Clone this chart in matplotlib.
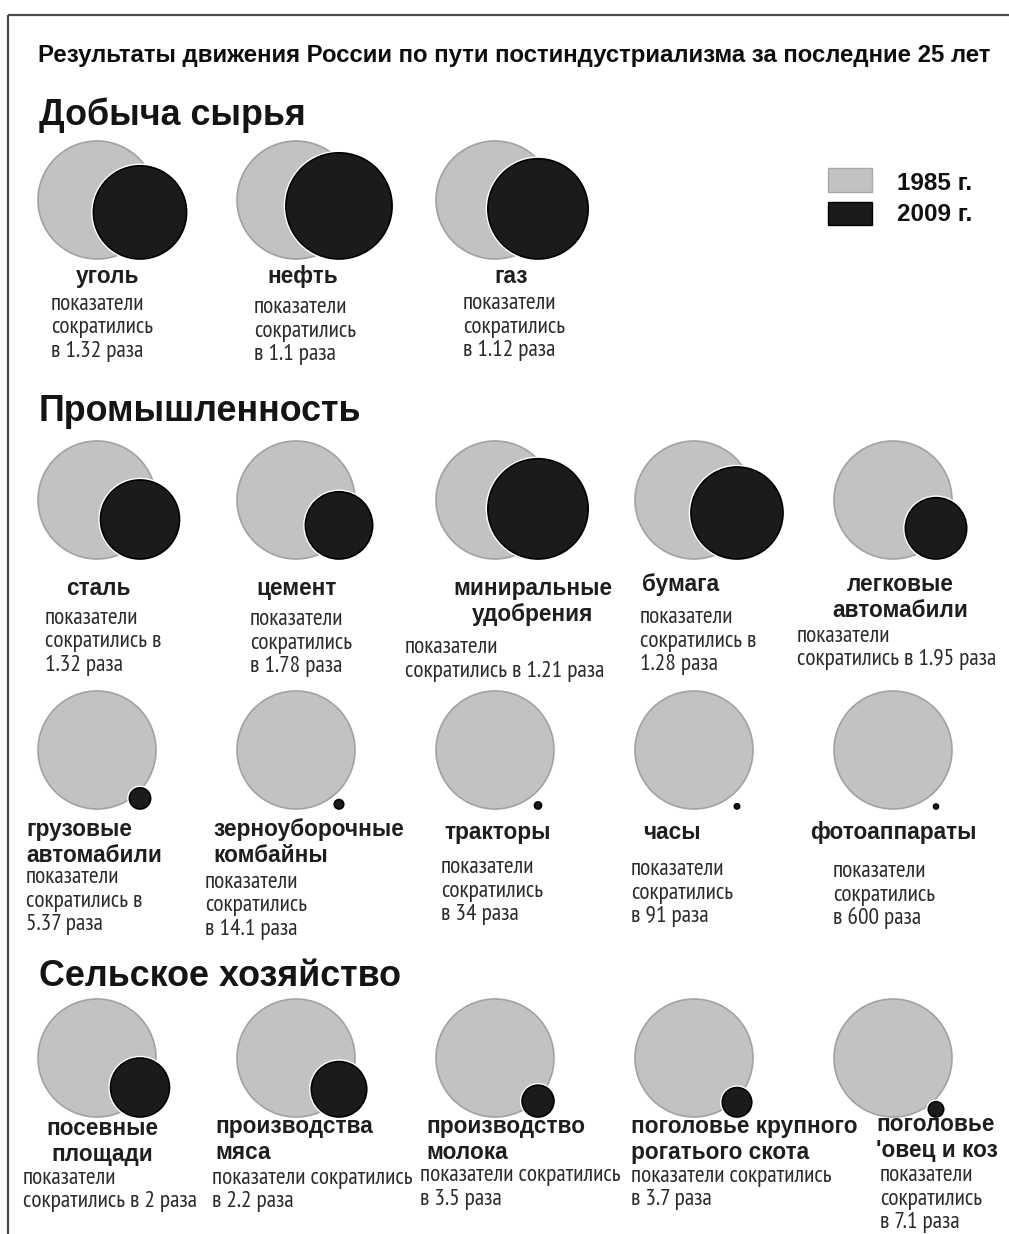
import matplotlib
matplotlib.use("Agg")
import matplotlib.pyplot as plt
from matplotlib.patches import Circle, Rectangle

# ---- данные ----
заголовок = "Результаты движения России по пути постиндустриализма за последние 25 лет"
разделы = ["Добыча сырья", "Промышленность", "Сельское хозяйство"]
годы = ["1985 г.", "2009 г."]

названия = [
    ["уголь"], ["нефть"], ["газ"],
    ["сталь"], ["цемент"], ["миниральные", "удобрения"], ["бумага"], ["легковые", "автомабили"],
    ["грузовые", "автомабили"], ["зерноуборочные", "комбайны"], ["тракторы"], ["часы"], ["фотоаппараты"],
    ["посевные", "площади"], ["производства", "мяса"], ["производство", "молока"],
    ["поголовье крупного", "рогатього скота"], ["поголовье", "'овец и коз"],
]
# во сколько раз сократились показатели (подписи)
сокращение = ["1.32", "1.1", "1.12",
              "1.32", "1.78", "1.21", "1.28", "1.95",
              "5.37", "14.1", "34", "91", "600",
              "2", "2.2", "3.5", "3.7", "7.1"]
# размер круга 2009 г. относительно круга 1985 г. (как нарисовано)
размер_2009 = [0.79, 0.90, 0.85,
               0.67, 0.57, 0.85, 0.78, 0.52,
               0.18, 0.08, 0.06, 0.045, 0.04,
               0.50, 0.47, 0.27, 0.25, 0.13]

# ---- раскладка ----
колонки = [97, 296, 495, 694, 893]
ряды = [200, 500, 750, 1058]
R = 59
ячейки = [(0, 0), (0, 1), (0, 2),
          (1, 0), (1, 1), (1, 2), (1, 3), (1, 4),
          (2, 0), (2, 1), (2, 2), (2, 3), (2, 4),
          (3, 0), (3, 1), (3, 2), (3, 3), (3, 4)]
# как перенесена строка "показатели сократились в N раза"
переносы = ["A", "A", "A", "B", "A", "C", "B", "C",
            "B", "A", "A", "A", "A", "C", "D", "D", "D", "A"]
# x подписи, y подписи, выравнивание, x примечания, y примечания
подписи_xy = [
    (76, 277, "left", 51, 305), (267, 277, "left", 254, 308), (494, 277, "left", 463, 304),
    (66, 589, "left", 45, 619), (256, 589, "left", 250, 620), (533, 589, "center", 405, 648),
    (642, 585, "left", 640, 618), (900, 585, "center", 797, 637),
    (26, 830, "left", 26, 878), (213, 830, "left", 205, 883), (444, 833, "left", 441, 868),
    (643, 833, "left", 631, 870), (810, 833, "left", 833, 872),
    (102, 1129, "center", 23, 1179), (215, 1127, "left", 212, 1179), (426, 1127, "left", 420, 1176),
    (631, 1127, "left", 631, 1177), (876, 1125, "left", 880, 1176),
]
разделы_y = [125, 421, 986]

УЗКИЙ = ["PT Sans Narrow", "Roboto Condensed", "Fira Sans Condensed",
         "IBM Plex Sans Condensed", "DejaVu Sans"]
ОБЫЧНЫЙ = ["Liberation Sans", "Arimo", "DejaVu Sans"]
СЕРЫЙ = "#c2c2c2"
ЧЕРНЫЙ = "#1b1b1b"


def строки_примечания(тип, f):
    if тип == "A":
        return ["показатели", "сократились", f"в {f} раза"]
    if тип == "B":
        return ["показатели", "сократились в", f"{f} раза"]
    if тип == "C":
        return ["показатели", f"сократились в {f} раза"]
    return ["показатели сократились", f"в {f} раза"]


def подогнать(txt, ширина, renderer):
    w = txt.get_window_extent(renderer).width
    return txt.get_fontsize() * ширина / w


fig = plt.figure(figsize=(10.09, 12.34), dpi=100)
ax = fig.add_axes([0, 0, 1, 1])
ax.set_xlim(0, 1009)
ax.set_ylim(1234, 0)
ax.axis("off")
renderer = fig.canvas.get_renderer()

# рамка
ax.plot([8, 1009], [15, 15], color="#4a4a4a", lw=1.6, solid_capstyle="butt")
ax.plot([8, 8], [15, 1234], color="#4a4a4a", lw=1.6, solid_capstyle="butt")

t = ax.text(38, 62, заголовок, family=ОБЫЧНЫЙ, fontweight="bold", fontsize=17, color="#0d0d0d")
t.set_fontsize(подогнать(t, 958, renderer))

# размер мелкого текста подбирается по ширине строки "показатели сократились"
проба = ax.text(0, -100, "показатели сократились", family=УЗКИЙ, fontsize=12)
размер_мелкий = подогнать(проба, 200, renderer)
проба.remove()

for раздел, y in zip(разделы, разделы_y):
    ax.text(39, y, раздел, family=ОБЫЧНЫЙ, fontweight="bold", fontsize=25.8, color="#141414")

# легенда
ax.add_patch(Rectangle((828, 168), 44, 24, facecolor=СЕРЫЙ, edgecolor="#a9a9a9", lw=1))
ax.add_patch(Rectangle((828, 202), 44, 23, facecolor=ЧЕРНЫЙ, edgecolor="#000000", lw=1))
ax.text(897, 190, годы[0], family=ОБЫЧНЫЙ, fontweight="bold", fontsize=17.5, color="#111111")
ax.text(897, 221, годы[1], family=ОБЫЧНЫЙ, fontweight="bold", fontsize=17.5, color="#111111")

for i, (ряд, кол) in enumerate(ячейки):
    gx, gy = колонки[кол], ряды[ряд]
    ax.add_patch(Circle((gx, gy), R, facecolor=СЕРЫЙ, edgecolor="#a2a2a2", lw=1.2))
    r = max(R * размер_2009[i], 2.5)
    bx, by = gx + 43, gy + R - r
    if r > 6:
        ax.add_patch(Circle((bx, by), r + 2.2, facecolor="white", edgecolor="none"))
    ax.add_patch(Circle((bx, by), r, facecolor=ЧЕРНЫЙ, edgecolor="#000000", lw=1.2))

    lx, ly, ha, nx, ny = подписи_xy[i]
    for k, строка in enumerate(названия[i]):
        ax.text(lx, ly + 6 + 26 * k, строка, family=ОБЫЧНЫЙ, fontweight="bold",
                fontsize=16.3, color="#1e1e1e", ha=ha, va="baseline")
    for k, строка in enumerate(строки_примечания(переносы[i], сокращение[i])):
        ax.text(nx, ny + 5 + 23.5 * k, строка, family=УЗКИЙ, fontsize=размер_мелкий,
                color="#2b2b2b", ha="left", va="baseline")

fig.savefig("out.png", dpi=100, facecolor="white")
